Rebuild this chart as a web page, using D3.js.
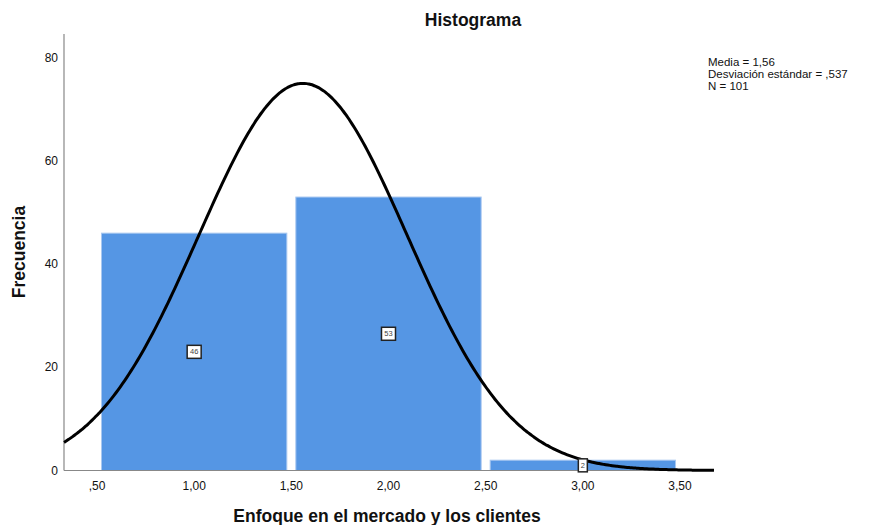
<!DOCTYPE html>
<html>
<head>
<meta charset="utf-8">
<script src="https://cdn.jsdelivr.net/npm/d3@7"></script>
<style>
  body { margin: 0; background: #fff; }
  svg { display: block; font-family: "Liberation Sans", Arial, sans-serif; }
</style>
</head>
<body>
<svg id="chart" width="873" height="525"></svg>
<script>
// Data
const binStarts = [0.5, 1.5, 2.5];
const binEnds = [1.5, 2.5, 3.5];
const counts = [46, 53, 2];
const xTicks = [0.5, 1.0, 1.5, 2.0, 2.5, 3.0, 3.5];
const xTickLabels = [",50", "1,00", "1,50", "2,00", "2,50", "3,00", "3,50"];
const yTicks = [0, 20, 40, 60, 80];
const stats = ["Media = 1,56", "Desviación estándar = ,537", "N = 101"];
const mean = 1.56, sd = 0.537, n = 101, binWidth = 1;

const svg = d3.select("#chart");
const x = d3.scaleLinear().domain([0.3302, 3.675]).range([64, 714]);
const y = d3.scaleLinear().domain([0, 84.6]).range([470.5, 34]);

// Bars
svg.append("g").selectAll("rect").data(counts).join("rect")
  .attr("x", (d, i) => x(binStarts[i]) + 4.5)
  .attr("width", (d, i) => x(binEnds[i]) - x(binStarts[i]) - 9)
  .attr("y", d => y(d))
  .attr("height", d => y(0) - y(d))
  .attr("fill", "#5596e4")
  .attr("stroke", "#a9c8f0")
  .attr("stroke-width", 1);

// Axes lines
svg.append("line").attr("x1", x.range()[0]).attr("x2", x.range()[0])
  .attr("y1", y.range()[1]).attr("y2", y(0)).attr("stroke", "#888").attr("stroke-width", 1.2);
svg.append("line").attr("x1", x.range()[0]).attr("x2", x.range()[1])
  .attr("y1", y(0)).attr("y2", y(0)).attr("stroke", "#888").attr("stroke-width", 1.2);

// Y tick labels
svg.append("g").selectAll("text").data(yTicks).join("text")
  .attr("x", 58).attr("y", d => y(d) + 4)
  .attr("text-anchor", "end").attr("font-size", 12).attr("fill", "#111")
  .text(d => d);

// X tick labels
svg.append("g").selectAll("text").data(xTicks).join("text")
  .attr("x", d => x(d)).attr("y", 490)
  .attr("text-anchor", "middle").attr("font-size", 12).attr("fill", "#111")
  .text((d, i) => xTickLabels[i]);

// Normal curve
const pts = d3.range(0, 301).map(i => {
  const xv = x.domain()[0] + (x.domain()[1] - x.domain()[0]) * i / 300;
  const yv = n * binWidth / (sd * Math.sqrt(2 * Math.PI)) * Math.exp(-0.5 * ((xv - mean) / sd) ** 2);
  return [xv, yv];
});
svg.append("path").datum(pts)
  .attr("d", d3.line().x(d => x(d[0])).y(d => y(d[1])).curve(d3.curveBasis))
  .attr("fill", "none").attr("stroke", "#000").attr("stroke-width", 3);

// Value labels
const lab = svg.append("g").selectAll("g").data(counts).join("g")
  .attr("transform", (d, i) => `translate(${x((binStarts[i] + binEnds[i]) / 2)},${y(d / 2)})`);
lab.append("rect")
  .attr("x", d => -(String(d).length * 2.5 + 2)).attr("y", -6.5)
  .attr("width", d => String(d).length * 5 + 4).attr("height", 13)
  .attr("fill", "#fff").attr("stroke", "#222").attr("stroke-width", 1.5);
lab.append("text").attr("text-anchor", "middle").attr("y", 2.5)
  .attr("font-size", 7.5).attr("fill", "#444").text(d => d);

// Title
svg.append("text").attr("x", 473).attr("y", 26).attr("text-anchor", "middle")
  .attr("font-size", 17.5).attr("font-weight", "bold").attr("fill", "#111").text("Histograma");

// Axis titles
svg.append("text").attr("x", 387).attr("y", 522).attr("text-anchor", "middle")
  .attr("font-size", 17.5).attr("font-weight", "bold").attr("fill", "#111")
  .text("Enfoque en el mercado y los clientes");
svg.append("text").attr("transform", "translate(25,252) rotate(-90)").attr("text-anchor", "middle")
  .attr("font-size", 17.5).attr("font-weight", "bold").attr("fill", "#111").text("Frecuencia");

// Stats legend
svg.append("g").selectAll("text").data(stats).join("text")
  .attr("x", 708).attr("y", (d, i) => 66 + i * 12)
  .attr("font-size", 11.5).attr("fill", "#111").text(d => d);
</script>
</body>
</html>
